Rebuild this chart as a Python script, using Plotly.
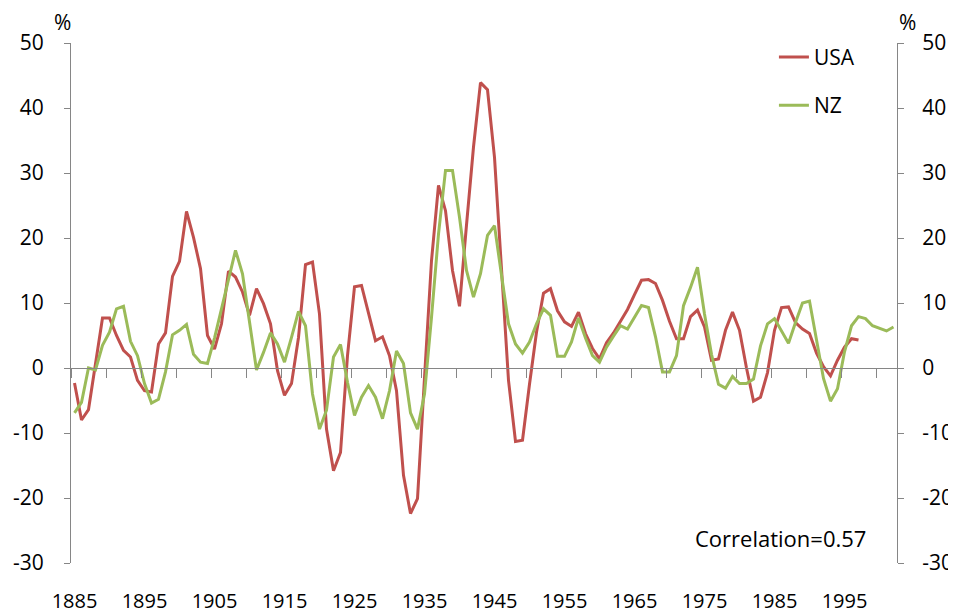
import plotly.graph_objects as go

years = list(range(1885, 2003))

usa = [
    -2.3, -8.0, -6.4, 0.6, 7.7, 7.7, 5.0, 2.7, 1.7, -1.9,
    -3.5, -3.7, 3.7, 5.4, 14.1, 16.4, 24.1, 20.1, 15.3, 5.0,
    2.9, 6.8, 14.9, 14.0, 11.7, 8.1, 12.2, 9.9, 6.8, -0.4,
    -4.2, -2.4, 4.7, 15.9, 16.3, 8.3, -9.4, -15.8, -13.0, 1.9,
    12.5, 12.7, 8.6, 4.2, 4.8, 1.9, -3.5, -16.5, -22.4, -20.1,
    -1.5, 16.5, 28.1, 24.2, 15.0, 9.5, 22.0, 34.0, 43.9, 42.8,
    32.4, 15.0, -1.9, -11.3, -11.1, -2.5, 5.5, 11.5, 12.2, 8.8,
    7.1, 6.4, 8.6, 5.3, 3.0, 1.4, 3.9, 5.4, 7.2, 9.0,
    11.3, 13.5, 13.6, 13.0, 10.4, 7.2, 4.5, 4.5, 7.9, 8.9,
    6.3, 1.2, 1.4, 5.8, 8.6, 5.8, 0.0, -5.1, -4.5, -0.7,
    5.8, 9.3, 9.4, 7.0, 6.0, 5.3, 2.3, 0.2, -1.2, 1.2,
    3.2, 4.5, 4.3,
]

nz = [
    -6.9, -5.3, 0.0, -0.3, 3.5, 5.5, 9.1, 9.5, 4.1, 1.9,
    -2.4, -5.4, -4.8, -0.6, 5.1, 5.8, 6.7, 2.1, 0.9, 0.7,
    4.6, 9.0, 13.5, 18.1, 14.5, 7.1, -0.3, 2.4, 5.4, 3.7,
    0.9, 4.7, 8.7, 6.5, -4.0, -9.4, -6.5, 1.7, 3.6, -2.2,
    -7.3, -4.5, -2.7, -4.5, -7.8, -3.5, 2.6, 0.7, -6.9, -9.4,
    -4.0, 7.8, 20.6, 30.4, 30.4, 23.2, 15.0, 10.9, 14.5, 20.4,
    21.9, 14.3, 6.8, 3.7, 2.3, 4.0, 6.8, 9.1, 8.1, 1.8,
    1.8, 4.0, 7.7, 4.6, 1.9, 0.9, 3.2, 4.9, 6.5, 6.0,
    7.8, 9.6, 9.3, 4.8, -0.6, -0.6, 1.9, 9.6, 12.4, 15.5,
    8.3, 2.1, -2.5, -3.1, -1.3, -2.4, -2.4, -1.7, 3.4, 6.8,
    7.6, 5.8, 3.8, 7.0, 10.0, 10.3, 4.2, -1.6, -5.1, -3.2,
    2.5, 6.5, 7.9, 7.6, 6.5, 6.1, 5.7, 6.3,
]

label_years = list(range(1885, 2000, 10))
y_ticks = list(range(-30, 51, 10))
y_ticktext = [str(v) for v in y_ticks]

FONT = "Open Sans"
AX = "#868686"

fig = go.Figure()
# USA: zero-line x axis (x) and left y axis (y)
fig.add_trace(go.Scatter(
    x=years[:len(usa)], y=usa, name="USA", mode="lines",
    line=dict(color="#C0504D", width=3), legendgroup="usa",
    xaxis="x", yaxis="y",
))
# NZ: labelled bottom x axis (x2) and right y axis (y2)
fig.add_trace(go.Scatter(
    x=years[:len(nz)], y=nz, name="NZ", mode="lines",
    line=dict(color="#9BBB59", width=3), legendgroup="nz",
    xaxis="x2", yaxis="y2",
))

xr = [years[0] - 0.5, years[-1] + 0.5]
yr = [-30, 50]

fig.update_layout(
    template="none",
    width=948, height=607,
    margin=dict(l=63, r=59, t=35, b=52, autoexpand=False),
    paper_bgcolor="white", plot_bgcolor="white",
    font=dict(family=FONT, size=21, color="#000000"),
    showlegend=True,
    legend=dict(x=0.851, y=1.012, xanchor="left", yanchor="top",
                font=dict(size=21), tracegroupgap=18,
                bgcolor="rgba(0,0,0,0)", borderwidth=0),
    xaxis=dict(range=xr, anchor="free", position=(0 - yr[0]) / (yr[1] - yr[0]),
               showline=True, linecolor=AX, linewidth=1,
               ticks="outside", ticklen=9, tickcolor=AX, tickwidth=1,
               tickmode="linear", tick0=years[0] - 0.5, dtick=5,
               showticklabels=False, showgrid=False, zeroline=False,
               automargin=False),
    xaxis2=dict(range=xr, overlaying="x", anchor="y2", side="bottom",
                showline=False, showgrid=False, zeroline=False,
                tickmode="array", tickvals=label_years,
                ticktext=[str(v) for v in label_years],
                tickfont=dict(size=20),
                ticks="outside", ticklen=20, tickcolor="rgba(0,0,0,0)",
                automargin=False),
    yaxis=dict(range=yr, tickmode="array", tickvals=y_ticks, ticktext=y_ticktext,
               showline=True, linecolor=AX, linewidth=1,
               ticks="outside", ticklen=6, tickcolor=AX,
               ticklabelstandoff=16,
               showgrid=False, zeroline=False, automargin=False),
    yaxis2=dict(range=yr, overlaying="y", side="right", anchor="x2",
                tickmode="array", tickvals=y_ticks, ticktext=y_ticktext,
                showline=True, linecolor=AX, linewidth=1,
                ticks="outside", ticklen=6, tickcolor=AX,
                ticklabelstandoff=14,
                showgrid=False, zeroline=False, automargin=False),
    annotations=[
        dict(text="%", xref="paper", yref="paper", x=-0.01, y=1.04,
             xanchor="center", yanchor="middle", showarrow=False, font=dict(size=21)),
        dict(text="%", xref="paper", yref="paper", x=1.013, y=1.04,
             xanchor="center", yanchor="middle", showarrow=False, font=dict(size=21)),
        dict(text="Correlation=0.57", xref="paper", yref="paper", x=0.965, y=0.048,
             xanchor="right", yanchor="middle", showarrow=False, font=dict(size=22)),
    ],
)

fig.write_html("out.html")
